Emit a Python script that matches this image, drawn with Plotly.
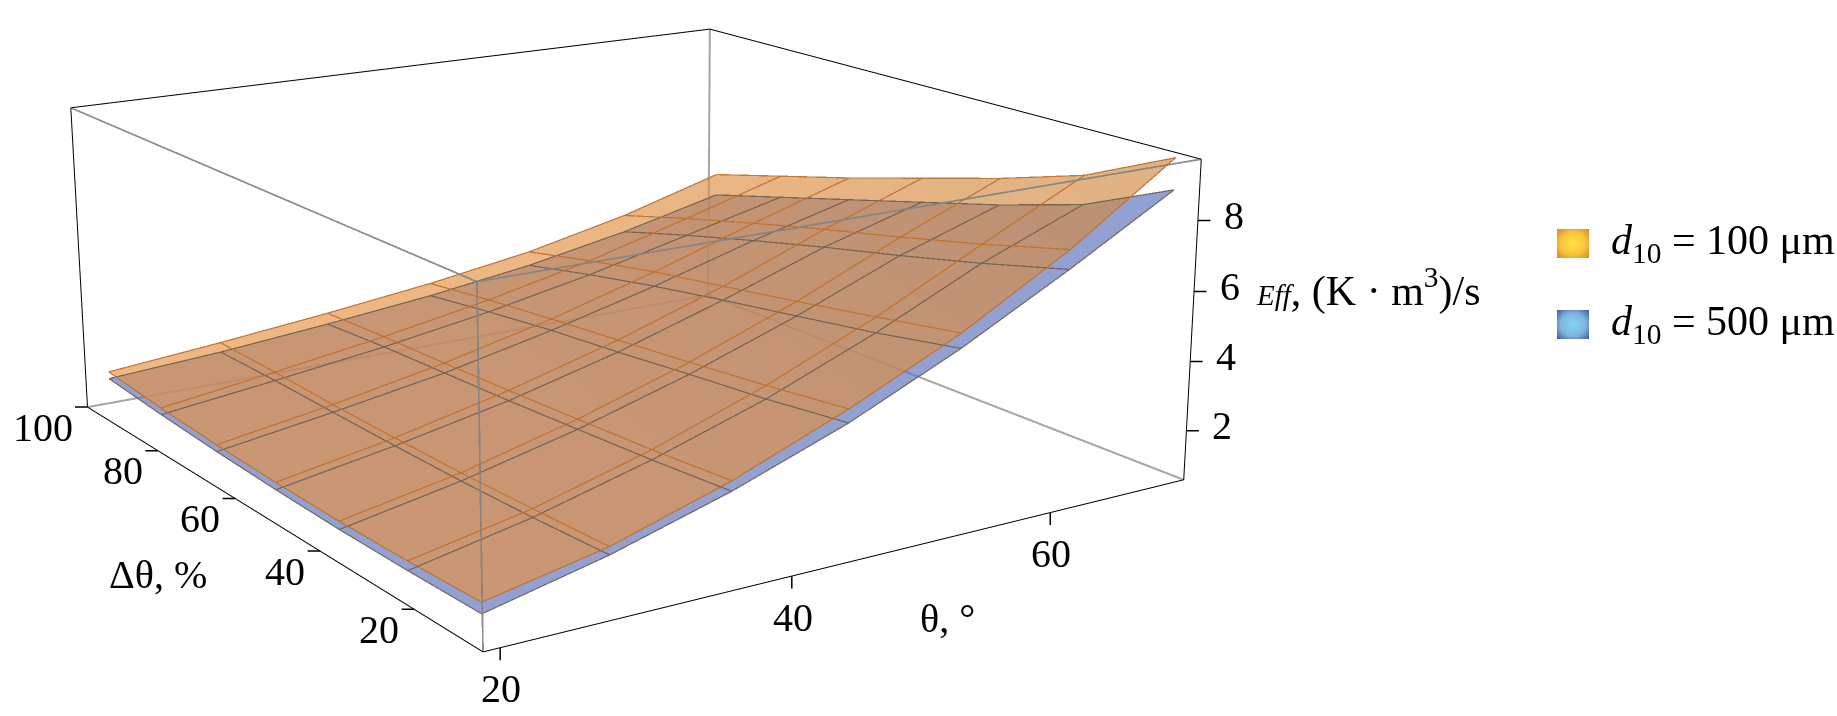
import base64
import plotly.graph_objects as go

theta = [20, 28.5, 37, 45.5, 54, 62.5, 71]
dtheta = [10, 24.6, 39.2, 53.75, 68.3, 82.9, 97.5]
eff_100 = [
 [1.45,1.38,1.35,1.38,1.45,1.57,1.74],
 [2.12,2.04,1.98,1.97,1.98,2.03,2.05],
 [3.13,2.95,2.82,2.70,2.60,2.52,2.40],
 [4.38,4.08,3.82,3.58,3.35,3.10,2.80],
 [5.82,5.40,5.00,4.62,4.25,3.80,3.30],
 [7.55,6.92,6.35,5.82,5.25,4.65,4.00],
 [9.60,8.40,7.60,6.90,6.20,5.55,4.90]]
eff_500 = [
 [1.15,1.12,1.12,1.17,1.25,1.37,1.53],
 [1.90,1.80,1.75,1.74,1.75,1.77,1.75],
 [2.85,2.67,2.53,2.40,2.30,2.20,2.05],
 [4.00,3.70,3.47,3.22,3.00,2.72,2.40],
 [5.40,4.95,4.57,4.20,3.80,3.35,2.85],
 [7.00,6.37,5.80,5.27,4.70,4.10,3.45],
 [8.70,7.55,6.80,6.15,5.50,4.85,4.20]]
x_range = [18.9, 71.3]
y_range = [6.6, 100]
z_range = [0.56, 9.7]
x_ticks = [20, 40, 60]
y_ticks = [20, 40, 60, 80, 100]
z_ticks = [2, 4, 6, 8]
series_names = ['<i>d</i><sub>10</sub> = 100 μm', '<i>d</i><sub>10</sub> = 500 μm']

# Plotly's field of view is fixed at 45 degrees, so the scene is laid out taller
# than the window and the page is shifted to keep the weak perspective of the reference.
W, H = 1837, 716
SCENE_H = 2484
SHIFT = 884
SCENE_W = 1286
PAD = 0.01

eye = dict(x=-1.985, y=-3.041, z=0.999)
center = dict(x=-0.005, y=-0.071, z=-0.071)
up = dict(x=0.0, y=-0.002, z=1.0)
aspect = dict(x=1.0 * (1 + 2 * PAD), y=1.021 * (1 + 2 * PAD), z=0.403 * (1 + 2 * PAD))

def padded(r):
    d = (r[1] - r[0]) * PAD
    return [r[0] - d, r[1] + d]

orange_scale = [[0, 'rgb(232,146,66)'], [1, 'rgb(206,136,66)']]
blue_scale = [[0, 'rgb(100,118,190)'], [1, 'rgb(100,118,190)']]
flat = dict(ambient=1, diffuse=0, specular=0, roughness=1, fresnel=0)

def T(m):
    return [list(r) for r in zip(*m)]

fig = go.Figure()

def mesh(z, color, width):
    xs, ys, zs = [], [], []
    for i, tv in enumerate(theta):
        xs += [tv] * len(dtheta) + [None]
        ys += dtheta + [None]
        zs += list(z[i]) + [None]
    for j, dv in enumerate(dtheta):
        xs += theta + [None]
        ys += [dv] * len(theta) + [None]
        zs += [r[j] for r in z] + [None]
    fig.add_trace(go.Scatter3d(x=xs, y=ys, z=zs, mode='lines', line=dict(color=color, width=width),
                               opacity=0.9, showlegend=False, hoverinfo='skip'))

def edges(seg, color, width, opacity=1.0):
    xs, ys, zs = [], [], []
    for a, b in seg:
        for pt in (a, b):
            xs.append(x_range[pt[0]]); ys.append(y_range[pt[1]]); zs.append(z_range[pt[2]])
        xs.append(None); ys.append(None); zs.append(None)
    fig.add_trace(go.Scatter3d(x=xs, y=ys, z=zs, mode='lines', line=dict(color=color, width=width),
                               opacity=opacity, showlegend=False, hoverinfo='skip'))

# edges behind the surfaces: opaque, so the translucent surfaces are painted over them
edges([((1,1,1),(1,1,0)), ((1,1,0),(0,1,0)), ((1,1,0),(1,0,0))], 'rgb(165,165,165)', 4)
edges([((0,1,1),(1,1,1)), ((1,1,1),(1,0,1)), ((0,1,1),(0,1,0)), ((1,0,1),(1,0,0)),
       ((0,1,0),(0,0,0)), ((0,0,0),(1,0,0))], 'black', 2)

fig.add_trace(go.Surface(x=theta, y=dtheta, z=T(eff_500), colorscale=blue_scale, showscale=False,
                         opacity=0.70, lighting=flat, name='d10 = 500 μm'))
fig.add_trace(go.Surface(x=theta, y=dtheta, z=T(eff_100), colorscale=orange_scale, showscale=False,
                         opacity=0.65, lighting=flat, name='d10 = 100 μm'))
mesh(eff_500, 'rgb(110,95,80)', 2.5)
mesh(eff_100, 'rgb(192,110,38)', 2.5)
# edges in front of the surfaces
edges([((0,1,1),(0,0,1)), ((0,0,1),(1,0,1)), ((0,0,1),(0,0,0))], 'rgb(130,130,130)', 3.5, 0.9)

FS = 40
FONT = 'Liberation Serif'
X0, X1 = x_range
Y0, Y1 = y_range
Z0, Z1 = z_range
ann = []

def tick(x, y, z, ax, ay):
    ann.append(dict(x=x, y=y, z=z, text='', showarrow=True, arrowhead=0, arrowwidth=1.5,
                    arrowcolor='black', ax=ax, ay=ay, standoff=0, startstandoff=0))

def lab(x, y, z, t, xs, ys, xa='center', size=FS):
    ann.append(dict(x=x, y=y, z=z, text=t, showarrow=False, xshift=xs, yshift=ys, xanchor=xa,
                    yanchor='middle', font=dict(family=FONT, size=size, color='black')))

for v in x_ticks:
    tick(v, Y0, Z0, 0, 14); lab(v, Y0, Z0, str(v), 1, -41)
for v in y_ticks:
    tick(X0, v, Z0, -14, 0); lab(X0, v, Z0, str(v), -13, -20, 'right')
for v in z_ticks:
    tick(X1, Y0, v, 14, 0); lab(X1, Y0, v, str(v), 24, 5, 'left')
lab(50, Y0, Z0, 'θ, °', 23, -75)
lab(X0, 60, Z0, 'Δθ, %', -77, -76)
lab(X1, Y0, 6, '<span style="font-size:29px"><i>Eff</i></span>, (K · m<sup>3</sup>)/s', 60, 3, 'left', 42)

def swatch(inner, mid, outer):
    svg = ('<svg xmlns="http://www.w3.org/2000/svg" width="32" height="29"><defs>'
           '<radialGradient id="g" r="0.72"><stop offset="0" stop-color="%s"/>'
           '<stop offset="0.55" stop-color="%s"/><stop offset="1" stop-color="%s"/>'
           '</radialGradient></defs><rect width="32" height="29" fill="url(#g)"/></svg>' % (inner, mid, outer))
    return 'data:image/svg+xml;base64,' + base64.b64encode(svg.encode()).decode()

def py(p):
    return 1 - (p + SHIFT) / SCENE_H

images = []
paper_ann = []
for name, top, cols in zip(series_names, [229, 310],
                           [('#ffe640', '#f7c23c', '#d9802a'), ('#7fd8f5', '#7fb4dc', '#3f4f9f')]):
    images.append(dict(source=swatch(*cols), xref='paper', yref='paper', x=1557 / W, y=py(top),
                       sizex=32 / W, sizey=29 / SCENE_H, xanchor='left', yanchor='top',
                       sizing='stretch', layer='above'))
    paper_ann.append(dict(xref='paper', yref='paper', x=1609 / W, y=py(top + 14), text=name,
                          showarrow=False, xanchor='left', yanchor='middle',
                          font=dict(family=FONT, size=42, color='black')))

ax = dict(visible=False, showbackground=False, showgrid=False, zeroline=False, showspikes=False, autorange=False)
fig.update_layout(
    width=W, height=SCENE_H, margin=dict(l=0, r=0, t=0, b=0), paper_bgcolor='white',
    showlegend=False, images=images, annotations=paper_ann,
    scene=dict(domain=dict(x=[0, SCENE_W / W], y=[0, 1]),
               xaxis=dict(range=padded(x_range), **ax), yaxis=dict(range=padded(y_range), **ax),
               zaxis=dict(range=padded(z_range), **ax),
               aspectmode='manual', aspectratio=aspect,
               camera=dict(eye=eye, center=center, up=up, projection=dict(type='perspective')),
               annotations=ann))

post = ("var gd=document.getElementById('{plot_id}');gd.style.marginTop='-%dpx';"
        "var d=document.documentElement;d.style.height='%dpx';d.style.overflow='hidden';"
        "document.body.style.height='%dpx';document.body.style.overflow='hidden';"
        "document.body.style.margin='0';") % (SHIFT, H, H)
fig.write_html("out.html", post_script=post)
